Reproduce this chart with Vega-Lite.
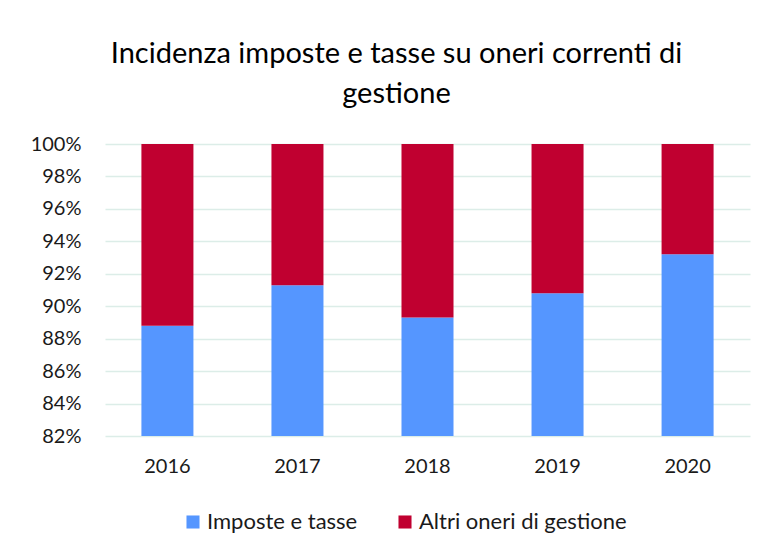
{
  "$schema": "https://vega.github.io/schema/vega-lite/v6.json",
  "width": 645,
  "height": 292,
  "autosize": {"type": "none"},
  "padding": {"left": 105, "top": 144, "right": 17, "bottom": 114},
  "background": "white",
  "title": {
    "text": ["Incidenza imposte e tasse su oneri correnti di", "gestione"],
    "fontSize": 29,
    "font": "Lato",
    "fontWeight": "normal",
    "color": "#000000",
    "lineHeight": 40,
    "anchor": "middle",
    "dx": -31,
    "offset": 25
  },
  "data": {
    "values": [
      {"anno": "2016", "serie": "Imposte e tasse", "quota": 0.888},
      {"anno": "2017", "serie": "Imposte e tasse", "quota": 0.913},
      {"anno": "2018", "serie": "Imposte e tasse", "quota": 0.893},
      {"anno": "2019", "serie": "Imposte e tasse", "quota": 0.908},
      {"anno": "2020", "serie": "Imposte e tasse", "quota": 0.932},
      {"anno": "2016", "serie": "Altri oneri di gestione", "quota": 0.112},
      {"anno": "2017", "serie": "Altri oneri di gestione", "quota": 0.087},
      {"anno": "2018", "serie": "Altri oneri di gestione", "quota": 0.107},
      {"anno": "2019", "serie": "Altri oneri di gestione", "quota": 0.092},
      {"anno": "2020", "serie": "Altri oneri di gestione", "quota": 0.068}
    ]
  },
  "mark": {"type": "bar", "clip": true},
  "encoding": {
    "x": {
      "field": "anno",
      "type": "ordinal",
      "scale": {"paddingInner": 0.6, "paddingOuter": 0.28},
      "axis": {
        "title": null,
        "labelAngle": 0,
        "labelFontSize": 20,
        "labelFont": "Lato",
        "labelColor": "#1a1a1a",
        "labelPadding": 20,
        "ticks": false,
        "domain": false
      }
    },
    "y": {
      "field": "quota",
      "type": "quantitative",
      "stack": "zero",
      "scale": {"domain": [0.82, 1.0], "nice": false},
      "axis": {
        "title": null,
        "format": ".0%",
        "values": [0.82, 0.84, 0.86, 0.88, 0.9, 0.92, 0.94, 0.96, 0.98, 1.0],
        "labelFontSize": 20,
        "labelFont": "Lato",
        "labelColor": "#1a1a1a",
        "labelPadding": 24,
        "ticks": false,
        "domain": false,
        "gridColor": "#DCEDE8",
        "gridWidth": 1.5
      }
    },
    "color": {
      "field": "serie",
      "type": "nominal",
      "scale": {
        "domain": ["Imposte e tasse", "Altri oneri di gestione"],
        "range": ["#5596FF", "#C00030"]
      },
      "legend": {
        "title": null,
        "orient": "none",
        "direction": "horizontal",
        "legendX": 77,
        "legendY": 367,
        "symbolType": "square",
        "symbolSize": 170,
        "symbolStrokeWidth": 0,
        "labelFontSize": 22,
        "labelFont": "Lato",
        "labelColor": "#1a1a1a",
        "labelLimit": 0,
        "labelOffset": 3,
        "columnPadding": 36
      }
    },
    "order": {"field": "serie", "sort": "descending"}
  },
  "config": {"view": {"stroke": null}}
}
